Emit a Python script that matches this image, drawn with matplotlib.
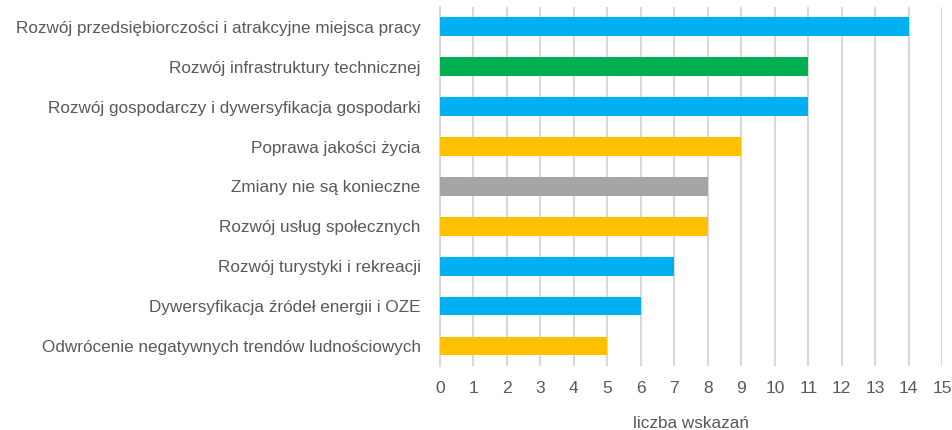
import matplotlib.pyplot as plt

plt.rcParams["font.family"] = ["Liberation Sans", "DejaVu Sans"]

categories = [
    "Rozwój przedsiębiorczości i atrakcyjne miejsca pracy",
    "Rozwój infrastruktury technicznej",
    "Rozwój gospodarczy i dywersyfikacja gospodarki",
    "Poprawa jakości życia",
    "Zmiany nie są konieczne",
    "Rozwój usług społecznych",
    "Rozwój turystyki i rekreacji",
    "Dywersyfikacja źródeł energii i OZE",
    "Odwrócenie negatywnych trendów ludnościowych",
]
values = [14, 11, 11, 9, 8, 8, 7, 6, 5]
colors = ["#00B0F0", "#00B050", "#00B0F0", "#FFC000", "#A5A5A5",
          "#FFC000", "#00B0F0", "#00B0F0", "#FFC000"]
xticks = list(range(0, 16))

fig = plt.figure(figsize=(9.53, 4.30), dpi=100)
ax = fig.add_axes([0.4617, 0.149, 0.527, 0.835])

ypos = list(range(len(categories)))[::-1]
ax.barh(ypos, values, height=0.47, color=colors, zorder=3)

ax.set_xlim(0, 15)
ax.set_ylim(-0.5, len(categories) - 0.5)
ax.set_xticks(xticks)
ax.set_yticks(ypos)
ax.set_yticklabels(categories)
ax.grid(axis="x", color="#D9D9D9", linewidth=1.5, zorder=0)
for s in ["top", "right", "bottom"]:
    ax.spines[s].set_visible(False)
ax.spines["left"].set_color("#D9D9D9")
ax.spines["left"].set_linewidth(1.5)
ax.tick_params(axis="both", length=0, colors="#595959")
ax.tick_params(axis="y", pad=14, labelsize=12.3)
ax.tick_params(axis="x", pad=11, labelsize=12.5)
ax.set_xlabel("liczba wskazań", fontsize=12.3, color="#595959", labelpad=14)

fig.savefig("out.png", dpi=100)
